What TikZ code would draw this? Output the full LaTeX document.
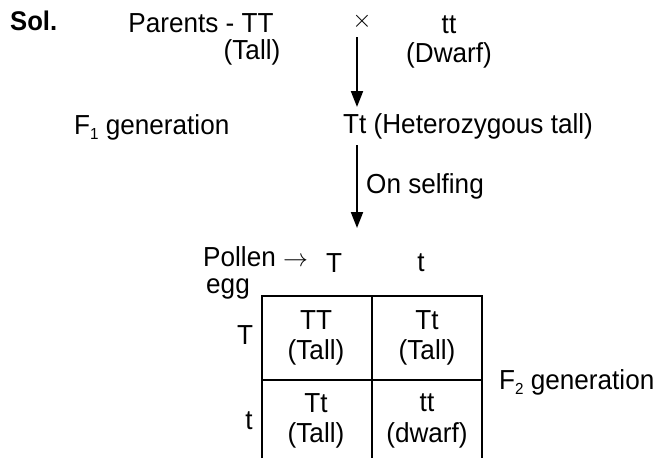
\documentclass[tikz,border=0pt]{standalone}
\usepackage{fontspec}
\setmainfont[FakeStretch=0.95]{Liberation Sans}
\usetikzlibrary{arrows.meta}
\newcommand{\subn}[1]{\raisebox{-5pt}{\fontsize{16}{16}\selectfont #1}}
\begin{document}
\begin{tikzpicture}[x=1pt,y=-1pt,
  lbl/.style={inner sep=0pt,font=\fontsize{27.5}{27.5}\selectfont},
  arr/.style={line width=2pt,-{Triangle[length=16pt,width=12pt]}},
  gridline/.style={line width=2.4pt}]
\useasboundingbox (0,0) rectangle (662,459);
% header
\node[lbl,anchor=west,font=\fontsize{27}{27}\selectfont\bfseries] (sol) at (10,21) {Sol.};
\node[lbl] (par) at (201,23) {Parents - TT};
\node[lbl,font=\fontsize{27}{27}\selectfont] (cross) at (362,21) {$\times$};
\node[lbl] (tt) at (449,25) {tt};
\node[lbl] (tall) at (252,52) {(Tall)};
\node[lbl] (dwarf) at (449,55) {(Dwarf)};
% F1
\coordinate (a1s) at (357,37);
\node[lbl,anchor=west] (f1) at (74,127) {F\subn{1} generation};
\node[lbl,anchor=west] (het) at (343,126) {Tt (Heterozygous tall)};
\coordinate (a1e) at (357,107);
\draw[arr] (a1s) -- (a1e);
\coordinate (a2s) at (357,145);
\coordinate (a2e) at (357,228);
\draw[arr] (a2s) -- (a2e);
\node[lbl,anchor=west] (self) at (366,186) {On selfing};
% Punnett
\node[lbl,anchor=west] (pollen) at (203,257) {Pollen $\rightarrow$};
\node[lbl] (pT) at (334,263) {T};
\node[lbl] (pt) at (421,263) {t};
\node[lbl,anchor=west] (egg) at (206,289) {egg};
\node[lbl] (eT) at (245,335) {T};
\node[lbl] (et) at (249,421) {t};
\coordinate (g1) at (262,296);
\coordinate (g2) at (482,296);
\coordinate (g3) at (262,380);
\coordinate (g4) at (482,380);
\coordinate (b1) at (262,458);
\coordinate (b2) at (372,458);
\coordinate (b3) at (482,458);
\coordinate (m1) at (372,296);
\draw[gridline] (b1) -- (g1) -- (g2) -- (b3);
\draw[gridline] (m1) -- (b2);
\draw[gridline] (g3) -- (g4);
\node[lbl,align=center] (c11) at (316,338) {TT\\[3pt](Tall)};
\node[lbl,align=center] (c12) at (427,338) {Tt\\[3pt](Tall)};
\node[lbl,align=center] (c21) at (316,421) {Tt\\[3pt](Tall)};
\node[lbl,align=center] (c22) at (427,421) {tt\\[3pt](dwarf)};
\node[lbl,anchor=west] (f2) at (499,382) {F\subn{2} generation};
\end{tikzpicture}
\end{document}
